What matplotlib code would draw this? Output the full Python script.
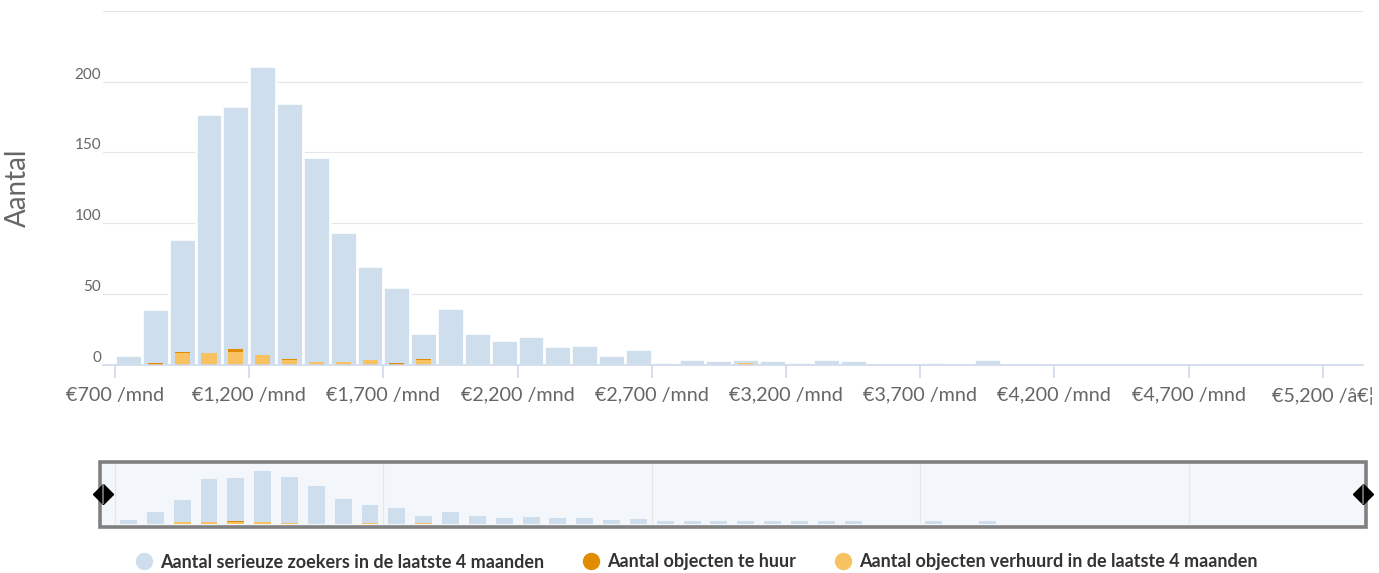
import numpy as np
import matplotlib
matplotlib.use("Agg")
import matplotlib.pyplot as plt
from matplotlib.lines import Line2D
from matplotlib.patches import Rectangle
from matplotlib.transforms import ScaledTranslation

# ---------------- data ----------------
bin_starts = [700, 800, 900, 1000, 1100, 1200, 1300, 1400, 1500, 1600,
              1700, 1800, 1900, 2000, 2100, 2200, 2300, 2400, 2500, 2600,
              2700, 2800, 2900, 3000, 3100, 3200, 3300, 3400, 3500, 3600,
              3700, 3800, 3900, 4000, 4100, 4200, 4300, 4400, 4500, 4600,
              4700, 4800, 4900, 5000, 5100, 5200, 5300]
bin_width = 100

zoekers = [7, 39, 89, 177, 183, 211, 185, 147, 94, 70,
           55, 22, 40, 22, 17, 20, 13, 14, 7, 11,
           2, 4, 3, 4, 3, 2, 4, 3, 1, 0,
           2, 1, 4, 0, 1, 1, 0, 1, 0, 1,
           0, 0, 1, 1, 0, 0, 1]
te_huur = [0, 1, 1, 0, 2, 0, 1, 0, 0, 0,
           1, 1, 0, 0, 0, 0, 0, 0, 0, 0,
           0, 0, 0, 0, 0, 0, 0, 0, 0, 0,
           0, 0, 0, 0, 0, 0, 0, 0, 0, 0,
           0, 0, 0, 0, 0, 0, 0]
verhuurd = [0, 0, 8, 8, 9, 7, 3, 2, 2, 3,
            0, 3, 0, 0, 0, 0, 0, 0, 0, 0,
            0, 0, 0, 1, 0, 0, 0, 0, 0, 0,
            0, 0, 0, 0, 0, 0, 0, 0, 0, 0,
            0, 0, 0, 0, 0, 0, 0]

series_labels = ["Aantal serieuze zoekers in de laatste 4 maanden",
                 "Aantal objecten te huur",
                 "Aantal objecten verhuurd in de laatste 4 maanden"]

x_tick_values = [700, 1200, 1700, 2200, 2700, 3200, 3700, 4200, 4700, 5200]
x_tick_labels = ["€700 /mnd", "€1,200 /mnd", "€1,700 /mnd", "€2,200 /mnd",
                 "€2,700 /mnd", "€3,200 /mnd", "€3,700 /mnd", "€4,200 /mnd",
                 "€4,700 /mnd", "€5,200 /\u00e2\u20ac\u00a6"]
y_tick_values = [0, 50, 100, 150, 200, 250]
y_tick_labels = ["0", "50", "100", "150", "200", ""]
nav_grid_values = [700, 1700, 2700, 3700, 4700]
y_title = "Aantal"

# ---------------- style ----------------
C_BLUE = "#cfdeec"
C_DARK = "#e08d00"
C_LIGHT = "#f8c263"
C_GRID = "#e6e6e6"
C_AXIS = "#ccd6eb"
C_TEXT = "#666666"
FONT = ["Lato", "DejaVu Sans"]
plt.rcParams["font.family"] = FONT

W, H = 1379, 573
fig = plt.figure(figsize=(W / 100, H / 100), dpi=100)

def fx(px):
    return px / W

def fy(py):
    return 1 - py / H

centers = np.array(bin_starts) + bin_width / 2
z = np.array(zoekers, dtype=float)
th = np.array(te_huur, dtype=float)
vh = np.array(verhuurd, dtype=float)
XMIN, XMAX = 655, 5350

# ---------------- main axes ----------------
ax = fig.add_axes([fx(103), fy(364.5), fx(1363) - fx(103), fy(11) - fy(364.5)])
ax.set_xlim(XMIN, XMAX)
ax.set_ylim(0, 250)
ax.set_axisbelow(True)

ax.bar(centers, z, width=bin_width, color=C_BLUE, edgecolor="white",
       linewidth=1.9, zorder=1)
ax.bar(centers, vh, width=bin_width * 0.56, color=C_LIGHT, linewidth=0, zorder=1.3)
ax.bar(centers, th, bottom=vh, width=bin_width * 0.56, color=C_DARK,
       linewidth=0, zorder=1.3)

for s in ["top", "right", "left"]:
    ax.spines[s].set_visible(False)
ax.spines["bottom"].set_color(C_AXIS)
ax.spines["bottom"].set_linewidth(1.1)

ax.set_yticks(y_tick_values)
ax.set_yticklabels(y_tick_labels)
ax.yaxis.grid(True, color=C_GRID, linewidth=0.8)
ax.tick_params(axis="y", length=0, pad=1.5, labelsize=11, labelcolor=C_TEXT)
for lab in ax.get_yticklabels():
    lab.set_verticalalignment("center")
    lab.set_transform(lab.get_transform() +
                      ScaledTranslation(0, 7 / 100, fig.dpi_scale_trans))

ax.set_xticks(x_tick_values)
ax.set_xticklabels(x_tick_labels)
ax.tick_params(axis="x", length=9.4, width=1.1, color=C_AXIS, pad=6.5,
               labelsize=14.2, labelcolor=C_TEXT, direction="out")

fig.text(fx(18), fy(188), y_title, rotation=90, ha="center", va="center",
         fontsize=20, color=C_TEXT)

# ---------------- navigator ----------------
bg = Rectangle((fx(100), fy(526.5)), fx(1365.5) - fx(100), fy(462) - fy(526.5),
               transform=fig.transFigure, facecolor="#f3f6fa", edgecolor="none",
               zorder=-1)
fig.patches.append(bg)
outline = Rectangle((fx(100), fy(526.5)), fx(1365.5) - fx(100), fy(462) - fy(526.5),
                    transform=fig.transFigure, facecolor="none", edgecolor="#808080",
                    linewidth=2.6, zorder=5)
fig.patches.append(outline)

nav = fig.add_axes([fx(103), fy(524), fx(1363) - fx(103), fy(464) - fy(524)])
nav.set_zorder(6)
nav.patch.set_alpha(0)
nav.set_xlim(XMIN, XMAX)
NAV_MIN = -10
nav.set_ylim(NAV_MIN, 240)
for s in nav.spines.values():
    s.set_visible(False)
nav.set_xticks([])
nav.set_yticks([])
for gx in nav_grid_values:
    nav.axvline(gx, color=C_GRID, linewidth=0.8, zorder=0)

# the navigator series leaves out single-count bins
mask = z > 1
nav.bar(centers[mask], z[mask] - NAV_MIN, bottom=NAV_MIN, width=bin_width * 0.63,
        color=C_BLUE, linewidth=0, zorder=1)
nav.bar(centers, vh, bottom=NAV_MIN, width=bin_width * 0.63, color=C_LIGHT,
        linewidth=0, zorder=1.3)
nav.bar(centers, th, bottom=NAV_MIN + vh, width=bin_width * 0.63, color=C_DARK,
        linewidth=0, zorder=1.3)

mid = (NAV_MIN + 240) / 2
nav.plot([XMIN, XMAX], [mid, mid], linestyle="none", marker="D", markersize=10,
         color="black", clip_on=False, zorder=10)
nav.plot([XMIN, XMAX], [mid, mid], linestyle="none", marker="|", markersize=15,
         markeredgewidth=1.2, color="#808080", clip_on=False, zorder=11)

# ---------------- legend ----------------
handles = [Line2D([0], [0], linestyle="none", marker="o", markersize=11.5,
                  markerfacecolor=c, markeredgecolor=c)
           for c in (C_BLUE, C_DARK, C_LIGHT)]
fig.legend(handles, series_labels, loc="center", bbox_to_anchor=(fx(697), fy(562)),
           ncol=3, frameon=False, handlelength=0.8, handletextpad=0.5,
           columnspacing=2.2,
           prop={"family": FONT, "weight": "bold", "size": 13},
           labelcolor="#333333")

fig.savefig("out.png", dpi=100)
